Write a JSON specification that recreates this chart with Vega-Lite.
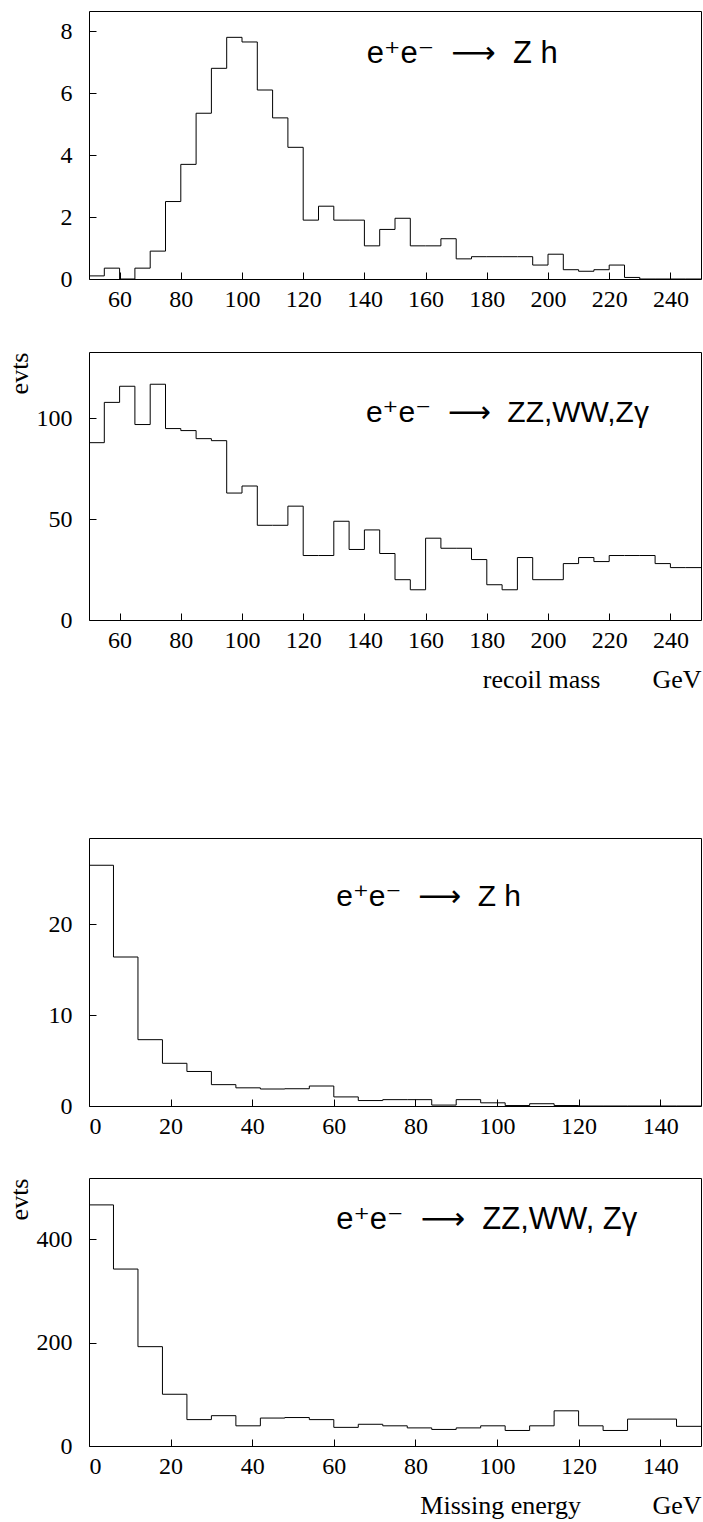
{
  "$schema": "https://vega.github.io/schema/vega-lite/v6.json",
  "background": "white",
  "padding": {"left": 5, "top": 10, "right": 0, "bottom": 0},
  "config": {
    "font": "Liberation Serif",
    "view": {"stroke": "#000", "strokeWidth": 1},
    "axis": {
      "domain": false,
      "grid": false,
      "tickSize": -7,
      "tickColor": "#000",
      "labelFont": "Liberation Serif",
      "labelFontSize": 24,
      "labelColor": "#000",
      "titleFont": "Liberation Serif",
      "titleFontSize": 26,
      "titleFontWeight": "normal",
      "titleColor": "#000"
    },
    "axisX": {"labelPadding": 15},
    "axisY": {"labelPadding": 24},
    "text": {"font": "Liberation Sans, DejaVu Sans", "align": "left", "baseline": "alphabetic", "color": "#000"}
  },
  "datasets": {
    "zh_recoil": [
      {"lo": 50, "hi": 55, "n": 0.1}, {"lo": 55, "hi": 60, "n": 0.35}, {"lo": 60, "hi": 65, "n": 0.0},
      {"lo": 65, "hi": 70, "n": 0.35}, {"lo": 70, "hi": 75, "n": 0.9}, {"lo": 75, "hi": 80, "n": 2.5},
      {"lo": 80, "hi": 85, "n": 3.7}, {"lo": 85, "hi": 90, "n": 5.35}, {"lo": 90, "hi": 95, "n": 6.8},
      {"lo": 95, "hi": 100, "n": 7.8}, {"lo": 100, "hi": 105, "n": 7.65}, {"lo": 105, "hi": 110, "n": 6.1},
      {"lo": 110, "hi": 115, "n": 5.2}, {"lo": 115, "hi": 120, "n": 4.25}, {"lo": 120, "hi": 125, "n": 1.9},
      {"lo": 125, "hi": 130, "n": 2.35}, {"lo": 130, "hi": 135, "n": 1.9}, {"lo": 135, "hi": 140, "n": 1.9},
      {"lo": 140, "hi": 145, "n": 1.07}, {"lo": 145, "hi": 150, "n": 1.6}, {"lo": 150, "hi": 155, "n": 1.96},
      {"lo": 155, "hi": 160, "n": 1.07}, {"lo": 160, "hi": 165, "n": 1.07}, {"lo": 165, "hi": 170, "n": 1.3},
      {"lo": 170, "hi": 175, "n": 0.65}, {"lo": 175, "hi": 180, "n": 0.72}, {"lo": 180, "hi": 185, "n": 0.72},
      {"lo": 185, "hi": 190, "n": 0.72}, {"lo": 190, "hi": 195, "n": 0.72}, {"lo": 195, "hi": 200, "n": 0.45},
      {"lo": 200, "hi": 205, "n": 0.8}, {"lo": 205, "hi": 210, "n": 0.3}, {"lo": 210, "hi": 215, "n": 0.25},
      {"lo": 215, "hi": 220, "n": 0.3}, {"lo": 220, "hi": 225, "n": 0.45}, {"lo": 225, "hi": 230, "n": 0.05},
      {"lo": 230, "hi": 235, "n": 0.0}, {"lo": 235, "hi": 240, "n": 0.0}, {"lo": 240, "hi": 245, "n": 0.0},
      {"lo": 245, "hi": 250, "n": 0.0}
    ],
    "bg_recoil": [
      {"lo": 50, "hi": 55, "n": 88}, {"lo": 55, "hi": 60, "n": 108}, {"lo": 60, "hi": 65, "n": 116},
      {"lo": 65, "hi": 70, "n": 97}, {"lo": 70, "hi": 75, "n": 117}, {"lo": 75, "hi": 80, "n": 95},
      {"lo": 80, "hi": 85, "n": 94}, {"lo": 85, "hi": 90, "n": 90}, {"lo": 90, "hi": 95, "n": 89},
      {"lo": 95, "hi": 100, "n": 63}, {"lo": 100, "hi": 105, "n": 66.5}, {"lo": 105, "hi": 110, "n": 47},
      {"lo": 110, "hi": 115, "n": 47}, {"lo": 115, "hi": 120, "n": 56.5}, {"lo": 120, "hi": 125, "n": 32},
      {"lo": 125, "hi": 130, "n": 32}, {"lo": 130, "hi": 135, "n": 49}, {"lo": 135, "hi": 140, "n": 35},
      {"lo": 140, "hi": 145, "n": 44.7}, {"lo": 145, "hi": 150, "n": 33}, {"lo": 150, "hi": 155, "n": 20},
      {"lo": 155, "hi": 160, "n": 15}, {"lo": 160, "hi": 165, "n": 40.6}, {"lo": 165, "hi": 170, "n": 35.6},
      {"lo": 170, "hi": 175, "n": 35.6}, {"lo": 175, "hi": 180, "n": 30}, {"lo": 180, "hi": 185, "n": 17.5},
      {"lo": 185, "hi": 190, "n": 15}, {"lo": 190, "hi": 195, "n": 31}, {"lo": 195, "hi": 200, "n": 20},
      {"lo": 200, "hi": 205, "n": 20}, {"lo": 205, "hi": 210, "n": 28}, {"lo": 210, "hi": 215, "n": 31},
      {"lo": 215, "hi": 220, "n": 29}, {"lo": 220, "hi": 225, "n": 32}, {"lo": 225, "hi": 230, "n": 32},
      {"lo": 230, "hi": 235, "n": 32}, {"lo": 235, "hi": 240, "n": 28}, {"lo": 240, "hi": 245, "n": 26},
      {"lo": 245, "hi": 250, "n": 26}
    ],
    "zh_emiss": [
      {"lo": 0, "hi": 6, "n": 26.5}, {"lo": 6, "hi": 12, "n": 16.4}, {"lo": 12, "hi": 18, "n": 7.3},
      {"lo": 18, "hi": 24, "n": 4.7}, {"lo": 24, "hi": 30, "n": 3.8}, {"lo": 30, "hi": 36, "n": 2.35},
      {"lo": 36, "hi": 42, "n": 2.0}, {"lo": 42, "hi": 48, "n": 1.87}, {"lo": 48, "hi": 54, "n": 1.9},
      {"lo": 54, "hi": 60, "n": 2.2}, {"lo": 60, "hi": 66, "n": 1.0}, {"lo": 66, "hi": 72, "n": 0.6},
      {"lo": 72, "hi": 78, "n": 0.7}, {"lo": 78, "hi": 84, "n": 0.7}, {"lo": 84, "hi": 90, "n": 0.1},
      {"lo": 90, "hi": 96, "n": 0.7}, {"lo": 96, "hi": 102, "n": 0.35}, {"lo": 102, "hi": 108, "n": 0.05},
      {"lo": 108, "hi": 114, "n": 0.25}, {"lo": 114, "hi": 120, "n": 0.05}, {"lo": 120, "hi": 126, "n": 0.0},
      {"lo": 126, "hi": 132, "n": 0.0}, {"lo": 132, "hi": 138, "n": 0.0}, {"lo": 138, "hi": 144, "n": 0.0},
      {"lo": 144, "hi": 150, "n": 0.0}
    ],
    "bg_emiss": [
      {"lo": 0, "hi": 6, "n": 466}, {"lo": 6, "hi": 12, "n": 342}, {"lo": 12, "hi": 18, "n": 192},
      {"lo": 18, "hi": 24, "n": 100}, {"lo": 24, "hi": 30, "n": 51}, {"lo": 30, "hi": 36, "n": 58.6},
      {"lo": 36, "hi": 42, "n": 39}, {"lo": 42, "hi": 48, "n": 54}, {"lo": 48, "hi": 54, "n": 55},
      {"lo": 54, "hi": 60, "n": 51}, {"lo": 60, "hi": 66, "n": 36}, {"lo": 66, "hi": 72, "n": 42},
      {"lo": 72, "hi": 78, "n": 39}, {"lo": 78, "hi": 84, "n": 35}, {"lo": 84, "hi": 90, "n": 32},
      {"lo": 90, "hi": 96, "n": 35}, {"lo": 96, "hi": 102, "n": 39}, {"lo": 102, "hi": 108, "n": 30},
      {"lo": 108, "hi": 114, "n": 39}, {"lo": 114, "hi": 120, "n": 68}, {"lo": 120, "hi": 126, "n": 39},
      {"lo": 126, "hi": 132, "n": 30}, {"lo": 132, "hi": 138, "n": 52}, {"lo": 138, "hi": 144, "n": 52},
      {"lo": 144, "hi": 150, "n": 38}
    ]
  },
  "spacing": 144,
  "vconcat": [
    {
      "spacing": 39,
      "vconcat": [
        {
          "width": 612, "height": 268,
          "layer": [
            {
              "data": {"name": "zh_recoil"},
              "mark": {"type": "rule", "color": "#000"},
              "encoding": {
                "x": {"field": "lo", "type": "quantitative", "scale": {"domain": [50, 250], "nice": false},
                      "axis": {"title": null, "values": [60, 80, 100, 120, 140, 160, 180, 200, 220, 240]}},
                "x2": {"field": "hi"},
                "y": {"field": "n", "type": "quantitative", "scale": {"domain": [0, 8.65], "nice": false},
                      "axis": {"title": null, "values": [0, 2, 4, 6, 8]}}
              }
            },
            {
              "data": {"name": "zh_recoil"},
              "transform": [
                {"window": [{"op": "lag", "field": "n", "as": "prev"}], "sort": [{"field": "lo"}]},
                {"filter": "datum.prev != null"}
              ],
              "mark": {"type": "rule", "color": "#000"},
              "encoding": {
                "x": {"field": "lo", "type": "quantitative"},
                "y": {"field": "prev", "type": "quantitative"},
                "y2": {"field": "n"}
              }
            },
            {
              "data": {"values": [{"label": "e⁺e⁻\u00a0 ⟶ \u00a0Z h"}]},
              "mark": {"type": "text", "fontSize": 31},
              "encoding": {
                "x": {"datum": 140.8, "type": "quantitative"},
                "y": {"datum": 6.96, "type": "quantitative"},
                "text": {"field": "label"}
              }
            }
          ]
        },
        {
          "width": 612, "height": 268,
          "layer": [
            {
              "data": {"name": "bg_recoil"},
              "mark": {"type": "rule", "color": "#000"},
              "encoding": {
                "x": {"field": "lo", "type": "quantitative", "scale": {"domain": [50, 250], "nice": false},
                      "axis": {"title": "recoil mass\u00a0\u00a0\u00a0\u00a0\u00a0\u00a0\u00a0\u00a0GeV", "titleAnchor": "end", "titlePadding": 14,
                               "values": [60, 80, 100, 120, 140, 160, 180, 200, 220, 240]}},
                "x2": {"field": "hi"},
                "y": {"field": "n", "type": "quantitative", "scale": {"domain": [0, 133], "nice": false},
                      "axis": {"title": "evts", "titleAnchor": "end", "titlePadding": 4, "values": [0, 50, 100]}}
              }
            },
            {
              "data": {"name": "bg_recoil"},
              "transform": [
                {"window": [{"op": "lag", "field": "n", "as": "prev"}], "sort": [{"field": "lo"}]},
                {"filter": "datum.prev != null"}
              ],
              "mark": {"type": "rule", "color": "#000"},
              "encoding": {
                "x": {"field": "lo", "type": "quantitative"},
                "y": {"field": "prev", "type": "quantitative"},
                "y2": {"field": "n"}
              }
            },
            {
              "data": {"values": [{"label": "e⁺e⁻\u00a0 ⟶ \u00a0ZZ,WW,Zγ"}]},
              "mark": {"type": "text", "fontSize": 30},
              "encoding": {
                "x": {"datum": 140.5, "type": "quantitative"},
                "y": {"datum": 98.5, "type": "quantitative"},
                "text": {"field": "label"}
              }
            }
          ]
        }
      ]
    },
    {
      "spacing": 38,
      "vconcat": [
        {
          "width": 612, "height": 268,
          "layer": [
            {
              "data": {"name": "zh_emiss"},
              "mark": {"type": "rule", "color": "#000"},
              "encoding": {
                "x": {"field": "lo", "type": "quantitative", "scale": {"domain": [0, 150], "nice": false},
                      "axis": {"title": null, "values": [0, 20, 40, 60, 80, 100, 120, 140]}},
                "x2": {"field": "hi"},
                "y": {"field": "n", "type": "quantitative", "scale": {"domain": [0, 29.5], "nice": false},
                      "axis": {"title": null, "values": [0, 10, 20]}}
              }
            },
            {
              "data": {"name": "zh_emiss"},
              "transform": [
                {"window": [{"op": "lag", "field": "n", "as": "prev"}], "sort": [{"field": "lo"}]},
                {"filter": "datum.prev != null"}
              ],
              "mark": {"type": "rule", "color": "#000"},
              "encoding": {
                "x": {"field": "lo", "type": "quantitative"},
                "y": {"field": "prev", "type": "quantitative"},
                "y2": {"field": "n"}
              }
            },
            {
              "data": {"values": [{"label": "e⁺e⁻\u00a0 ⟶ \u00a0Z h"}]},
              "mark": {"type": "text", "fontSize": 30},
              "encoding": {
                "x": {"datum": 60.6, "type": "quantitative"},
                "y": {"datum": 22.0, "type": "quantitative"},
                "text": {"field": "label"}
              }
            }
          ]
        },
        {
          "width": 612, "height": 268,
          "layer": [
            {
              "data": {"name": "bg_emiss"},
              "mark": {"type": "rule", "color": "#000"},
              "encoding": {
                "x": {"field": "lo", "type": "quantitative", "scale": {"domain": [0, 150], "nice": false},
                      "axis": {"title": "Missing energy\u00a0\u00a0\u00a0\u00a0\u00a0\u00a0\u00a0\u00a0\u00a0\u00a0\u00a0GeV", "titleAnchor": "end", "titlePadding": 14,
                               "values": [0, 20, 40, 60, 80, 100, 120, 140]}},
                "x2": {"field": "hi"},
                "y": {"field": "n", "type": "quantitative", "scale": {"domain": [0, 518], "nice": false},
                      "axis": {"title": "evts", "titleAnchor": "end", "titlePadding": 4, "values": [0, 200, 400]}}
              }
            },
            {
              "data": {"name": "bg_emiss"},
              "transform": [
                {"window": [{"op": "lag", "field": "n", "as": "prev"}], "sort": [{"field": "lo"}]},
                {"filter": "datum.prev != null"}
              ],
              "mark": {"type": "rule", "color": "#000"},
              "encoding": {
                "x": {"field": "lo", "type": "quantitative"},
                "y": {"field": "prev", "type": "quantitative"},
                "y2": {"field": "n"}
              }
            },
            {
              "data": {"values": [{"label": "e⁺e⁻\u00a0 ⟶ \u00a0ZZ,WW, Zγ"}]},
              "mark": {"type": "text", "fontSize": 31},
              "encoding": {
                "x": {"datum": 60.6, "type": "quantitative"},
                "y": {"datum": 419, "type": "quantitative"},
                "text": {"field": "label"}
              }
            }
          ]
        }
      ]
    }
  ]
}
